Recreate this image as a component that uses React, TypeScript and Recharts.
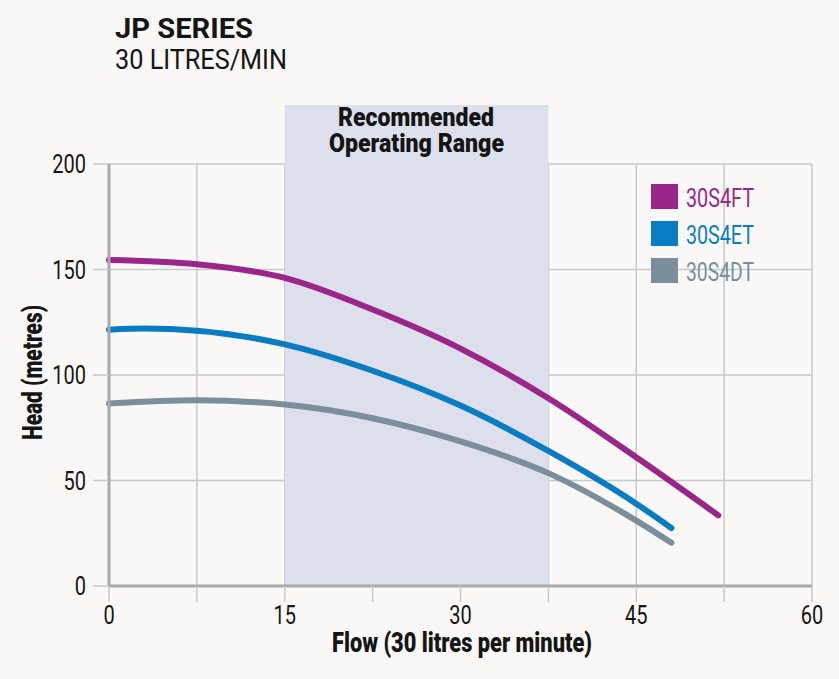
import { LineChart, Line, XAxis, YAxis, CartesianGrid, ReferenceArea } from "recharts";

// flow (x) and head (y) readings per pump model
const flowFT = [0, 7.5, 15, 22.5, 30, 37.5, 45, 52];
const headFT = [154.5, 152.5, 146, 131, 112.5, 89, 61, 33.5];
const flowET = [0, 3, 7.5, 15, 22.5, 30, 37.5, 45, 48];
const headET = [121.5, 122, 121, 114.5, 102, 85.5, 64, 39, 27.5];
const flowDT = [0, 7.5, 15, 22.5, 30, 37.5, 45, 48];
const headDT = [86.5, 88, 86, 79.5, 68.5, 53.5, 31, 20.5];

const models = ["30S4FT", "30S4ET", "30S4DT"];
const colors = ["#9b2689", "#0a7dc2", "#7a8f9b"];

const xTicks = [0, 7.5, 15, 22.5, 30, 37.5, 45, 52.5, 60];
const yTicks = [0, 50, 100, 150, 200];
const rangeStart = 15;
const rangeEnd = 37.5;

const toRows = (flow: number[], head: number[]) => flow.map((f, i) => ({ flow: f, head: head[i] }));
const series = [toRows(flowFT, headFT), toRows(flowET, headET), toRows(flowDT, headDT)];

const FONT = "Roboto, sans-serif";
const GRID = "#c9c9c9";
const INK = "#151515";

// narrow the tick digits to mimic the condensed face of the original
function XTick(props: any) {
  const { x, y, payload } = props;
  if (payload.value % 15 !== 0) return <g />;
  return (
    <text transform={`translate(${x},${y + 22}) scale(0.8,1)`} textAnchor="middle" fontFamily={FONT} fontSize={25} fill={INK}>
      {payload.value}
    </text>
  );
}

function YTick(props: any) {
  const { x, y, payload } = props;
  return (
    <text transform={`translate(${x},${y + 9}) scale(0.8,1)`} textAnchor="end" fontFamily={FONT} fontSize={25} fill={INK}>
      {payload.value}
    </text>
  );
}

export default function App() {
  return (
    <div style={{ position: "absolute", left: 0, top: 0, width: 839, height: 679, background: "#f9f8f6", overflow: "hidden" }}>
      <LineChart width={839} height={679} margin={{ top: 164, right: 27, bottom: 63, left: 19 }} style={{ position: "absolute", left: 0, top: 0 }}>
        <ReferenceArea x1={rangeStart} x2={rangeEnd} y1={0} y2={228} ifOverflow="visible" fill="#dddfec" fillOpacity={1} stroke="none" />
        <CartesianGrid stroke={GRID} strokeWidth={1.5} verticalValues={xTicks} horizontalValues={yTicks} />
        <XAxis
          dataKey="flow"
          type="number"
          domain={[0, 60]}
          ticks={xTicks}
          interval={0}
          height={30}
          tickSize={16}
          tickMargin={0}
          tickLine={{ stroke: GRID, strokeWidth: 1.5 }}
          axisLine={{ stroke: "#a9a9a9", strokeWidth: 3 }}
          tick={<XTick />}
          allowDuplicatedCategory={false}
        />
        <YAxis
          type="number"
          domain={[0, 200]}
          ticks={yTicks}
          width={90}
          tickSize={16}
          tickMargin={7}
          tickLine={{ stroke: GRID, strokeWidth: 1.5 }}
          axisLine={{ stroke: "#a9a9a9", strokeWidth: 3 }}
          tick={<YTick />}
        />
        {series.map((rows, i) => (
          <Line
            key={models[i]}
            data={rows}
            dataKey="head"
            name={models[i]}
            type="monotone"
            stroke={colors[i]}
            strokeWidth={6}
            strokeLinecap="round"
            dot={false}
            activeDot={false}
            isAnimationActive={false}
          />
        ))}
      </LineChart>

      <svg width={839} height={679} style={{ position: "absolute", left: 0, top: 0, pointerEvents: "none" }}>
        <text x={115} y={38} fontFamily={FONT} fontWeight={700} fontSize={28} fill={INK} textLength={138} lengthAdjust="spacingAndGlyphs">
          JP SERIES
        </text>
        <text x={115} y={69} fontFamily={FONT} fontSize={27} fill={INK} textLength={172} lengthAdjust="spacingAndGlyphs">
          30 LITRES/MIN
        </text>

        <text x={338} y={126} fontFamily={FONT} fontWeight={900} fontSize={25} fill={INK} textLength={156} lengthAdjust="spacingAndGlyphs">
          Recommended
        </text>
        <text x={329} y={152} fontFamily={FONT} fontWeight={900} fontSize={25} fill={INK} textLength={175} lengthAdjust="spacingAndGlyphs">
          Operating Range
        </text>

        <text transform="translate(42,440) rotate(-90)" fontFamily={FONT} fontWeight={900} fontSize={27} fill={INK} textLength={135} lengthAdjust="spacingAndGlyphs">
          Head (metres)
        </text>
        <text x={332} y={652} fontFamily={FONT} fontWeight={900} fontSize={27} fill={INK} textLength={260} lengthAdjust="spacingAndGlyphs">
          Flow (30 litres per minute)
        </text>

        {models.map((m, i) => (
          <g key={m}>
            <rect x={651} y={184 + i * 37} width={27} height={25} fill={colors[i]} />
            <text x={686} y={207 + i * 37} fontFamily={FONT} fontSize={25} fill={colors[i]} textLength={68} lengthAdjust="spacingAndGlyphs">
              {m}
            </text>
          </g>
        ))}
      </svg>
    </div>
  );
}
